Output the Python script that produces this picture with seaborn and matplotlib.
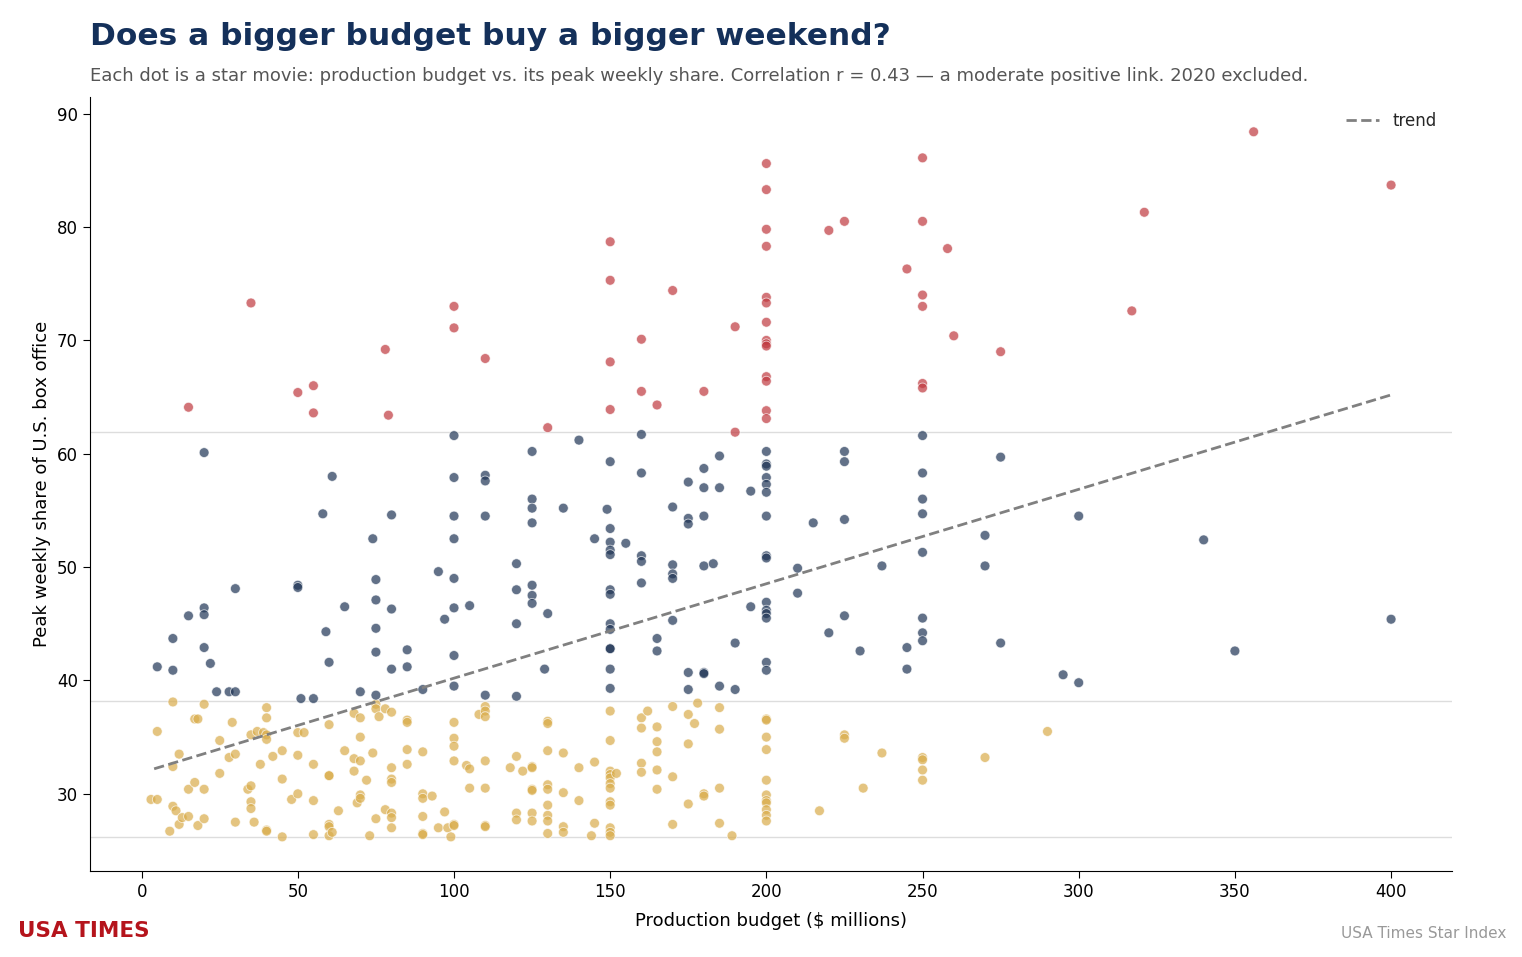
import matplotlib
matplotlib.use("Agg")
import matplotlib.pyplot as plt
import seaborn as sns
import numpy as np
import pandas as pd

red_pts = [(15,64.1),(35,73.3),(50,65.4),(55,66),(55,63.6),(78,69.2),(79,63.4),(100,73),(100,71.1),(110,68.4),(130,62.3),(150,78.7),(150,75.3),(150,68.1),(150,63.9),(160,70.1),(160,65.5),(165,64.3),(170,74.4),(180,65.5),(190,71.2),(190,61.9),(200,85.6),(200,83.3),(200,79.8),(200,78.3),(200,73.8),(200,73.3),(200,71.6),(200,70),(200,69.7),(200,69.5),(200,66.8),(200,66.4),(200,63.8),(200,63.1),(220,79.7),(225,80.5),(245,76.3),(250,86.1),(250,80.5),(250,74),(250,73),(250,66.2),(250,65.8),(258,78.1),(260,70.4),(275,69),(317,72.6),(321,81.3),(356,88.4),(400,83.7)]

blue_pts = [(5,41.2),(10,43.7),(10,40.9),(15,45.7),(20,60.1),(20,46.4),(20,45.8),(20,42.9),(22,41.5),(24,39),(28,39),(30,39),(30,48.1),(50,48.4),(50,48.2),(51,38.4),(55,38.4),(58,54.7),(59,44.3),(60,41.6),(61,58),(65,46.5),(70,39),(74,52.5),(75,48.9),(75,47.1),(75,44.6),(75,42.5),(75,38.7),(80,54.6),(80,46.3),(80,41),(85,42.7),(85,41.2),(90,39.2),(95,49.6),(97,45.4),(100,61.6),(100,57.9),(100,54.5),(100,52.5),(100,49),(100,46.4),(100,42.2),(100,39.5),(105,46.6),(110,58.1),(110,57.6),(110,54.5),(110,38.7),(120,50.3),(120,48),(120,45),(120,38.6),(125,60.2),(125,56),(125,55.2),(125,53.9),(125,48.4),(125,47.5),(125,46.8),(129,41),(130,45.9),(135,55.2),(140,61.2),(145,52.5),(149,55.1),(150,59.3),(150,53.4),(150,52.2),(150,51.5),(150,51.1),(150,48),(150,47.6),(150,45),(150,44.5),(150,42.8),(150,42.8),(150,41),(150,39.3),(155,52.1),(160,61.7),(160,58.3),(160,51),(160,50.5),(160,48.6),(165,43.7),(165,42.6),(170,55.3),(170,50.2),(170,49.4),(170,49),(170,45.3),(175,57.5),(175,54.3),(175,53.8),(175,40.7),(175,39.2),(180,58.7),(180,57),(180,54.5),(180,50.1),(180,40.7),(180,40.6),(183,50.3),(185,59.8),(185,57),(185,39.5),(190,43.3),(190,39.2),(195,56.7),(195,46.5),(200,60.2),(200,59.1),(200,58.9),(200,57.9),(200,57.3),(200,56.6),(200,54.5),(200,51),(200,50.8),(200,46.9),(200,46.2),(200,45.9),(200,45.5),(200,41.6),(200,40.9),(210,49.9),(210,47.7),(215,53.9),(220,44.2),(225,60.2),(225,59.3),(225,54.2),(225,45.7),(230,42.6),(237,50.1),(245,42.9),(245,41),(250,61.6),(250,58.3),(250,56),(250,54.7),(250,51.3),(250,45.5),(250,44.2),(250,43.5),(270,52.8),(270,50.1),(275,59.7),(275,43.3),(295,40.5),(300,54.5),(300,39.8),(340,52.4),(350,42.6),(400,45.4)]

gold_pts = [(3,29.5),(5,35.5),(5,29.5),(9,26.7),(10,38.1),(10,32.4),(10,28.9),(11,28.5),(12,33.5),(12,27.3),(13,27.9),(15,30.4),(15,28),(17,36.6),(17,31),(18,27.2),(18,36.6),(20,37.9),(20,30.4),(20,27.8),(25,34.7),(25,31.8),(28,33.2),(29,36.3),(30,27.5),(30,33.5),(34,30.4),(35,35.2),(35,30.7),(35,29.3),(35,28.7),(36,27.5),(37,35.5),(38,32.6),(39,35.4),(40,37.6),(40,36.7),(40,35.2),(40,34.8),(40,26.8),(40,26.7),(42,33.3),(45,33.8),(45,31.3),(45,26.2),(48,29.5),(50,35.4),(50,33.4),(50,30),(52,35.4),(55,32.6),(55,29.4),(55,26.4),(60,36.1),(60,31.6),(60,31.6),(60,27.3),(60,27.1),(60,26.3),(61,26.6),(63,28.5),(65,33.8),(68,37.1),(68,32),(68,33.1),(69,29.2),(70,36.7),(70,35),(70,32.9),(70,29.9),(70,29.6),(72,31.2),(73,26.3),(74,33.6),(75,37.9),(75,37.5),(75,27.8),(76,36.8),(78,37.5),(78,28.6),(80,37.2),(80,32.3),(80,31.3),(80,31),(80,28.3),(80,27.9),(80,27),(85,36.5),(85,36.3),(85,33.9),(85,32.6),(90,33.7),(90,30),(90,29.6),(90,28),(90,26.5),(90,26.4),(93,29.8),(95,27),(97,28.4),(98,27),(99,26.2),(100,36.3),(100,34.9),(100,34.2),(100,32.9),(100,27.3),(100,27.2),(104,32.5),(105,32.2),(105,30.5),(108,37),(110,37.7),(110,37.3),(110,36.8),(110,32.9),(110,30.5),(110,27.2),(110,27.1),(118,32.3),(120,33.3),(120,28.3),(120,27.7),(122,32),(125,32.4),(125,32.3),(125,30.4),(125,30.3),(125,28.3),(125,27.6),(130,36.4),(130,36.2),(130,33.8),(130,30.8),(130,30.4),(130,29),(130,28.1),(130,27.6),(130,26.5),(135,33.6),(135,30.1),(135,27.1),(135,26.6),(140,32.3),(140,29.4),(144,26.3),(145,32.8),(145,27.4),(150,37.3),(150,34.7),(150,32),(150,31.7),(150,31.4),(150,30.9),(150,30.5),(150,29.3),(150,29),(150,27),(150,26.6),(150,26.3),(152,31.8),(160,36.7),(160,35.8),(160,32.7),(160,31.9),(162,37.3),(165,35.9),(165,34.6),(165,33.7),(165,32.1),(165,30.4),(170,37.7),(170,31.5),(170,27.3),(175,37),(175,34.4),(175,29.1),(177,36.2),(178,38),(180,30),(180,29.8),(185,37.6),(185,35.7),(185,30.5),(185,27.4),(189,26.3),(200,36.6),(200,36.5),(200,35),(200,33.9),(200,31.2),(200,29.9),(200,29.4),(200,29.2),(200,28.6),(200,28.1),(200,27.6),(217,28.5),(225,35.2),(225,34.9),(231,30.5),(237,33.6),(250,33.2),(250,33),(250,32.1),(250,31.2),(270,33.2),(290,35.5)]

tier_lines = [61.9, 38.2, 26.2]
trend_intercept = 31.87
trend_slope = 0.0833
trend_x_range = [4, 400]

colors = {"top": "#c0393f", "mid": "#1f3556", "low": "#d9ac4a"}

rows = []
for name, pts in (("low", gold_pts), ("mid", blue_pts), ("top", red_pts)):
    for x, y in pts:
        rows.append({"budget": x, "share": y, "tier": name})
df = pd.DataFrame(rows)

sns.set_style("ticks")
plt.rcParams['font.family'] = ['DejaVu Sans']
fig = plt.figure(figsize=(15.22, 9.57), dpi=100)
ax = fig.add_axes([0.059, 0.090, 0.895, 0.809])

for y in tier_lines:
    ax.axhline(y, color="#dddddd", lw=1, zorder=0)

sns.scatterplot(data=df, x="budget", y="share", hue="tier", palette=colors,
                s=50, alpha=0.7, edgecolor="white", linewidth=0.6, ax=ax, legend=False, zorder=2)

tx = np.array(trend_x_range, dtype=float)
sns.lineplot(x=tx, y=trend_intercept + trend_slope * tx, color="#808080", lw=2,
             linestyle="--", ax=ax, label="trend", zorder=3)
ax.legend(loc="upper right", frameon=False, fontsize=12)

ax.set_xlim(-16.6, 419.5)
ax.set_ylim(23.2, 91.5)
ax.set_xticks(range(0, 401, 50))
ax.set_yticks(range(30, 91, 10))
ax.tick_params(labelsize=12, length=5, colors="black")
for s in ax.spines.values():
    s.set_color("black")
ax.set_xlabel("Production budget ($ millions)", fontsize=13, color="black", labelpad=8)
ax.set_ylabel("Peak weekly share of U.S. box office", fontsize=13, color="black")
sns.despine(ax=ax)

fig.text(0.059, 0.962, "Does a bigger budget buy a bigger weekend?", fontsize=22.5,
         fontweight="bold", color="#14305a", va="center")
fig.text(0.059, 0.921, "Each dot is a star movie: production budget vs. its peak weekly share. "
         "Correlation r = 0.43 \u2014 a moderate positive link. 2020 excluded.",
         fontsize=13, color="#555555", va="center")
fig.text(0.012, 0.027, "USA TIMES", fontsize=15.5, fontweight="bold", color="#b5141c", va="center")
fig.text(0.990, 0.025, "USA Times Star Index", fontsize=11, color="#999999", ha="right", va="center")

fig.savefig("out.png", dpi=100)
